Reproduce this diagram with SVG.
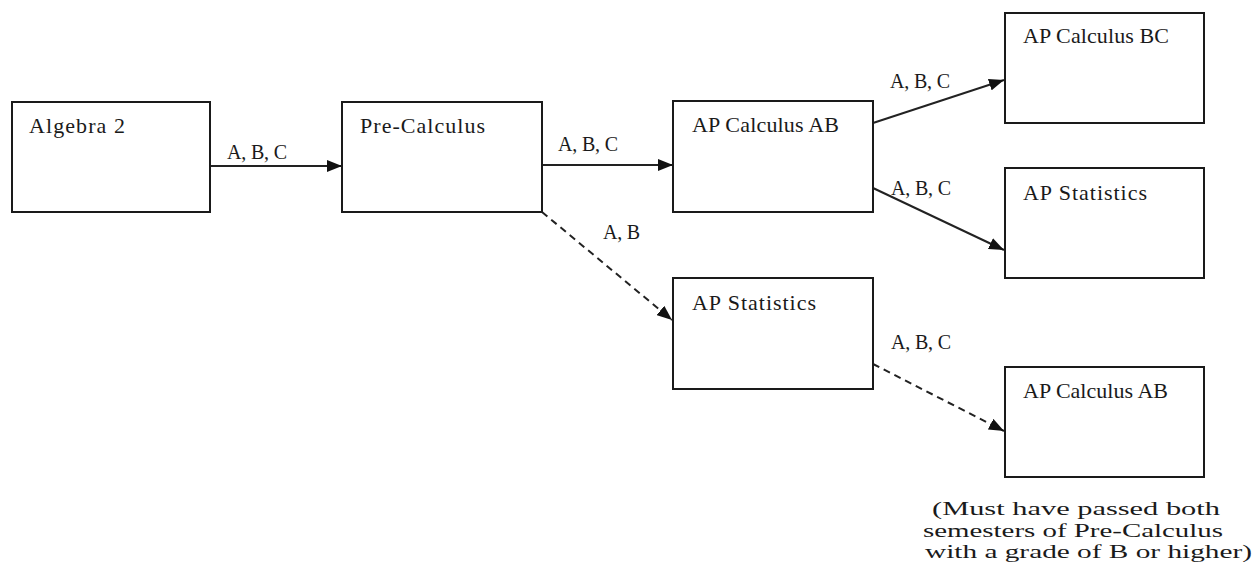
<svg xmlns="http://www.w3.org/2000/svg" width="1254" height="573" viewBox="0 0 1254 573" font-family="'Liberation Serif', 'DejaVu Serif', serif">
<style>
  .box{fill:#fff;stroke:#1a1a1a;stroke-width:2}
  text{font-family:'Liberation Serif','DejaVu Serif',serif;fill:#1a1a1a}
  .t{font-size:22px}
  .lbl{font-size:20px}
  .note{font-size:18px}
  .c{stroke:#222;stroke-width:2;fill:none;marker-end:url(#ah)}
  .d{stroke-dasharray:7 5}
</style>
<defs>
  <marker id="ah" markerUnits="userSpaceOnUse" markerWidth="16" markerHeight="12" viewBox="0 0 16 12" refX="15" refY="6" orient="auto">
    <path d="M0,0 L15,6 L0,12 z" fill="#111"/>
  </marker>
</defs>
<rect width="1254" height="573" fill="#fff"/>
<g id="connectors">
  <line class="c" x1="210" y1="166" x2="342" y2="166"/>
  <line class="c" x1="542" y1="165" x2="673" y2="165"/>
  <line class="c" x1="873" y1="123" x2="1004" y2="80"/>
  <line class="c" x1="873" y1="188" x2="1004" y2="250"/>
  <line class="c d" x1="542" y1="212" x2="672" y2="320"/>
  <line class="c d" x1="873" y1="364" x2="1004" y2="431"/>
  <text class="lbl" x="227" y="159" textLength="60">A, B, C</text>
  <text class="lbl" x="558" y="151" textLength="60">A, B, C</text>
  <text class="lbl" x="890" y="88" textLength="60">A, B, C</text>
  <text class="lbl" x="891" y="195" textLength="60">A, B, C</text>
  <text class="lbl" x="603" y="239" textLength="37">A, B</text>
  <text class="lbl" x="891" y="349" textLength="60">A, B, C</text>
</g>
<g id="algebra2">
  <rect class="box" x="12" y="102" width="198" height="110"/>
  <text class="t" x="29" y="133" textLength="96">Algebra 2</text>
</g>
<g id="precalc">
  <rect class="box" x="342" y="102" width="200" height="110"/>
  <text class="t" x="360" y="133" textLength="125">Pre-Calculus</text>
</g>
<g id="apcalcab">
  <rect class="box" x="673" y="101" width="200" height="111"/>
  <text class="t" x="692" y="132" textLength="147">AP Calculus  AB</text>
</g>
<g id="apcalcbc">
  <rect class="box" x="1005" y="13" width="199" height="110"/>
  <text class="t" x="1023" y="43" textLength="146">AP Calculus  BC</text>
</g>
<g id="apstats1">
  <rect class="box" x="1005" y="168" width="199" height="110"/>
  <text class="t" x="1023" y="200" textLength="124">AP Statistics</text>
</g>
<g id="apstats2">
  <rect class="box" x="673" y="278" width="200" height="111"/>
  <text class="t" x="692" y="310" textLength="124">AP Statistics</text>
</g>
<g id="apcalcab2">
  <rect class="box" x="1005" y="367" width="199" height="110"/>
  <text class="t" x="1023" y="398" textLength="145">AP Calculus  AB</text>
</g>
<g id="note">
  <text class="note" x="932" y="515" textLength="288" lengthAdjust="spacingAndGlyphs">(Must have passed both</text>
  <text class="note" x="923" y="537" textLength="300" lengthAdjust="spacingAndGlyphs">semesters of Pre-Calculus</text>
  <text class="note" x="925" y="558" textLength="327" lengthAdjust="spacingAndGlyphs">with a grade of B or higher)</text>
</g>
</svg>
